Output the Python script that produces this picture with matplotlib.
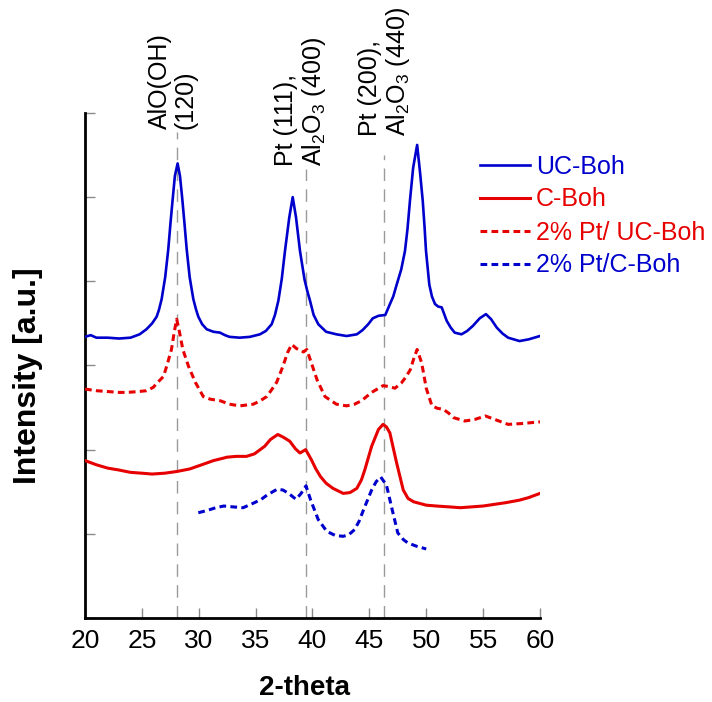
import matplotlib
matplotlib.use("Agg")
import matplotlib.pyplot as plt

plt.rcParams['font.family'] = ['Liberation Sans', 'DejaVu Sans']
plt.rcParams['mathtext.fontset'] = 'custom'
plt.rcParams['mathtext.rm'] = 'Liberation Sans'

BLUE = '#0000CC'
RED = '#E60000'

# XRD patterns (2-theta in degrees, offset intensity in arbitrary units)
uc_x = [20.0, 20.5, 21.0, 22.0, 23.0, 24.0, 24.8, 25.4, 25.9, 26.3, 26.5, 26.74, 27.05, 27.32,
        27.52, 27.71, 27.9, 28.14, 28.35, 28.55, 28.75, 28.94, 29.2, 29.52, 29.75, 29.96, 30.3,
        30.7, 31.3, 31.87, 32.3, 32.7, 33.6, 34.5, 35.38, 35.9, 36.41, 36.7, 37.0, 37.3, 37.58,
        37.96, 38.26, 38.55, 38.9, 39.3, 39.55, 39.78, 40.1, 40.51, 41.2, 42.1, 43.0, 43.9, 44.4,
        44.9, 45.3, 45.8, 46.4, 46.81, 47.1, 47.4, 47.8, 48.13, 48.35, 48.57, 48.85, 49.2, 49.45,
        49.69, 49.85, 49.98, 50.27, 50.5, 50.77, 51.05, 51.36, 51.8, 52.15, 52.5, 53.1, 53.6,
        54.1, 54.7, 55.25, 55.7, 56.2, 56.7, 57.2, 58.2, 59.0, 60.0]
uc_y = [3.34, 3.36, 3.33, 3.33, 3.32, 3.33, 3.37, 3.43, 3.50, 3.58, 3.66, 3.79, 4.05, 4.38,
        4.70, 4.98, 5.25, 5.40, 5.25, 4.98, 4.68, 4.38, 4.05, 3.79, 3.67, 3.58, 3.49,
        3.43, 3.40, 3.39, 3.36, 3.34, 3.33, 3.34, 3.37, 3.41, 3.49, 3.60, 3.77, 4.03, 4.36,
        4.76, 5.00, 4.76, 4.36, 4.02, 3.88, 3.77, 3.60, 3.49, 3.40, 3.37, 3.35, 3.37, 3.42,
        3.49, 3.56, 3.59, 3.60, 3.73, 3.82, 3.96, 4.14, 4.36, 4.62, 4.96, 5.35, 5.62, 5.30,
        4.96, 4.65, 4.36, 3.96, 3.82, 3.73, 3.70, 3.69, 3.53, 3.45, 3.39, 3.37, 3.41,
        3.47, 3.56, 3.61, 3.55, 3.45, 3.38, 3.33, 3.29, 3.31, 3.35]

c_x = [20.0, 21.0, 22.0, 22.9, 24.0, 25.0, 25.9, 27.0, 28.06, 29.2, 30.26, 31.3, 32.2, 32.46,
       33.3, 34.2, 34.9, 35.4, 35.8, 36.3, 36.95, 37.4, 38.0, 38.5, 38.9, 39.4, 39.9, 40.3,
       40.7, 41.2, 41.8, 42.7, 43.3, 43.9, 44.3, 44.6, 45.2, 45.8, 46.2, 46.5, 46.8, 47.1,
       47.4, 47.98, 48.4, 48.9, 50.0, 50.9, 52.0, 53.0, 54.0, 55.0, 56.0, 57.0, 58.2, 59.0, 60.0]
c_y = [1.87, 1.82, 1.78, 1.76, 1.73, 1.72, 1.71, 1.72, 1.74, 1.77, 1.82, 1.87, 1.90, 1.91,
       1.92, 1.92, 1.95, 2.00, 2.04, 2.12, 2.18, 2.15, 2.10, 2.01, 1.96, 2.00, 1.88, 1.77,
       1.68, 1.60, 1.54, 1.48, 1.49, 1.54, 1.64, 1.76, 2.04, 2.24, 2.30, 2.27, 2.20, 2.02,
       1.84, 1.52, 1.42, 1.38, 1.34, 1.33, 1.32, 1.31, 1.32, 1.33, 1.35, 1.37, 1.40, 1.43, 1.48]

pt_uc_x = [20.0, 21.0, 22.0, 23.0, 23.7, 24.7, 25.4, 26.0, 26.4, 26.9, 27.2, 27.6, 27.85, 28.06,
           28.3, 28.6, 29.1, 29.7, 30.4, 31.0, 31.9, 32.7, 33.6, 34.8, 35.4, 35.97, 36.4, 36.85,
           37.4, 37.8, 38.17, 38.6, 39.0, 39.2, 39.5, 39.9, 40.4, 41.1, 42.1, 43.0, 43.7, 44.3,
           45.2, 46.2, 46.7, 47.25, 47.8, 48.2, 48.6, 48.9, 49.2, 49.6, 50.0, 50.5, 51.0, 51.5,
           52.0, 52.4, 53.4, 54.3, 55.2, 56.2, 57.2, 58.4, 60.0]
pt_uc_y = [2.72, 2.70, 2.69, 2.68, 2.68, 2.69, 2.70, 2.74, 2.80, 2.87, 3.00, 3.19, 3.40, 3.55,
           3.40, 3.19, 2.99, 2.80, 2.63, 2.60, 2.58, 2.54, 2.52, 2.54, 2.58, 2.63, 2.71, 2.80,
           2.99, 3.15, 3.25, 3.20, 3.18, 3.16, 3.19, 3.03, 2.83, 2.63, 2.54, 2.52, 2.54, 2.58,
           2.68, 2.76, 2.75, 2.73, 2.79, 2.86, 2.95, 3.08, 3.19, 3.03, 2.73, 2.52, 2.49, 2.48,
           2.43, 2.38, 2.34, 2.36, 2.40, 2.35, 2.30, 2.31, 2.33]

pt_c_x = [29.96, 30.8, 31.5, 32.2, 33.0, 33.9, 34.9, 35.5, 36.0, 36.9, 37.4, 37.9, 38.55, 39.0,
          39.43, 39.84, 40.5, 41.25, 42.0, 42.7, 43.2, 43.7, 44.1, 44.5, 45.2, 45.6, 46.0, 46.5,
          47.0, 47.5, 48.0, 48.4, 49.2, 50.0]
pt_c_y = [1.25, 1.28, 1.31, 1.33, 1.32, 1.31, 1.37, 1.41, 1.46, 1.53, 1.52, 1.48, 1.41, 1.48,
          1.57, 1.40, 1.17, 1.03, 0.98, 0.97, 0.99, 1.05, 1.15, 1.29, 1.52, 1.62, 1.675, 1.58,
          1.29, 1.01, 0.93, 0.89, 0.85, 0.82]

# Reflection markers: position, top of guide line, label
ref_pos = [28.1, 39.45, 46.3]
ref_top = [5.77, 5.33, 5.50]
ref_text = ['AlO(OH)\n(120)',
            'Pt (111),\nAl$_\\mathregular{2}$O$_\\mathregular{3}$ (400)',
            'Pt (200),\nAl$_\\mathregular{2}$O$_\\mathregular{3}$ (440)']
ref_label_x = [27.74, 39.0, 46.4]
ref_label_y = [5.81, 5.37, 5.73]

fig = plt.figure(figsize=(7.12, 7.02), dpi=100)
ax = fig.add_axes([0.1194, 0.1197, 0.639, 0.7194])

for xp, top in zip(ref_pos, ref_top):
    ax.plot([xp, xp], [0, top], color='#9a9a9a', lw=1.0, dashes=(9, 6), zorder=1)

l1, = ax.plot(uc_x, uc_y, color=BLUE, lw=1.9, label='UC-Boh', zorder=3)
l2, = ax.plot(c_x, c_y, color=RED, lw=2.2, label='C-Boh', zorder=3)
l3, = ax.plot(pt_uc_x, pt_uc_y, color=RED, lw=2.2, dashes=(2.2, 1.4),
              label='2% Pt/ UC-Boh', zorder=3)
l4, = ax.plot(pt_c_x, pt_c_y, color=BLUE, lw=2.2, dashes=(2.2, 1.4),
              label='2% Pt/C-Boh', zorder=3)

for xl, yl, txt in zip(ref_label_x, ref_label_y, ref_text):
    ax.text(xl, yl, txt, rotation=90, ha='center', va='bottom', multialignment='left',
            fontsize=18, clip_on=False, linespacing=1.1)

ax.set_xlim(20, 60)
ax.set_ylim(0, 6)
ax.set_xticks(range(20, 61, 5))
ax.set_yticks(range(0, 7))
ax.set_yticklabels([])
ax.tick_params(axis='both', direction='in', length=7, width=1, color='#8a8a8a')
ax.tick_params(axis='x', labelsize=19, pad=8)
for side in ('top', 'right'):
    ax.spines[side].set_visible(False)
for side in ('left', 'bottom'):
    ax.spines[side].set_linewidth(2)
    ax.spines[side].set_color('black')

# Axis titles placed in figure coordinates
fig.text(304 / 712, 1 - 688 / 702, '2-theta', fontsize=20, fontweight='bold',
         ha='center', va='center')
fig.text(28 / 712, 1 - 376 / 702, 'Intensity [a.u.]', fontsize=23, fontweight='bold',
         ha='center', va='center', rotation=90)

leg = fig.legend(handles=[l1, l2, l3, l4], loc='upper left',
                 bbox_to_anchor=(467 / 712, 1 - 142 / 702), frameon=False,
                 fontsize=18, handlelength=2.0, handletextpad=0.25, labelspacing=0.36,
                 borderpad=0, labelcolor='linecolor')

fig.savefig('out.png', dpi=100)
